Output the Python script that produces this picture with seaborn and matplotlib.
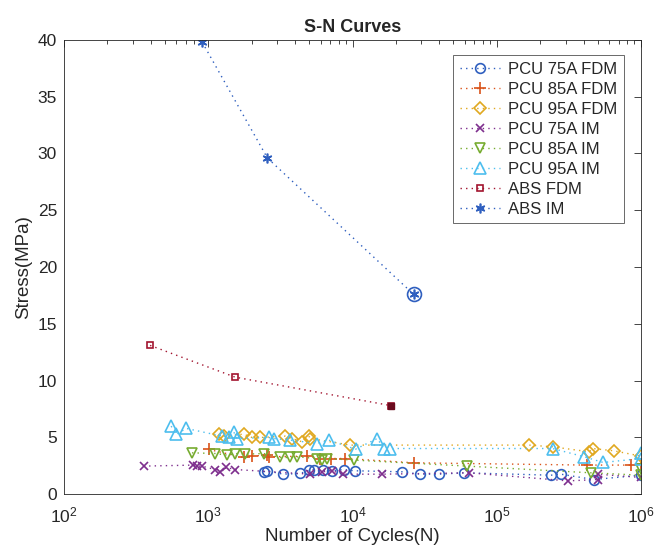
import numpy as np
import pandas as pd
import seaborn as sns
import matplotlib.pyplot as plt
from matplotlib.ticker import LogLocator, NullFormatter

sns.set_style("white")
plt.rcParams['font.family'] = ['Liberation Sans', 'DejaVu Sans']

# cycles (N) and stress (MPa)
pcu75_fdm_n = [2423, 2558, 3300, 4356, 4974, 5380, 6250, 7220, 8700, 10330,
               22130, 29400, 39800, 59300, 237000, 278000, 469000, 1000000]
pcu75_fdm_s = [1.97, 2.06, 1.76, 1.82, 2.11, 2.17, 2.11, 2.06, 2.17, 2.06,
               1.97, 1.76, 1.76, 1.88, 1.67, 1.76, 1.29, 1.67]

pcu85_fdm_n = [1005, 1757, 2010, 2558, 2624, 4840, 5995, 7040, 8930,
               26680, 421500, 853000, 1000000]
pcu85_fdm_s = [3.94, 3.23, 3.35, 3.44, 3.29, 3.35, 3.14, 3.14, 3.14,
               2.76, 2.56, 2.56, 2.70]

pcu95_fdm_n = [1180, 1276, 1757, 2010, 2296, 3424, 3812, 4473, 4974, 5110, 9680,
               167600, 243800, 437500, 462000, 646000, 1000000]
pcu95_fdm_s = [5.29, 5.11, 5.29, 4.99, 4.99, 5.11, 4.90, 4.61, 5.11, 4.90, 4.32,
               4.32, 4.17, 3.73, 4.02, 3.82, 3.35]

pcu75_im_n = [356, 790, 834, 903, 1120, 1210, 1334, 1541, 5110, 6150, 7220, 8600,
              16060, 64300, 312500, 500000, 500000, 1000000]
pcu75_im_s = [2.47, 2.56, 2.47, 2.47, 2.17, 1.97, 2.35, 2.17, 1.76, 1.97, 2.06, 1.76,
              1.76, 1.88, 1.17, 1.76, 1.29, 1.47]

pcu85_im_n = [771, 1120, 1349, 1541, 1808, 2423, 3162, 3707, 4130, 5684, 6150, 6670,
              10210, 62500, 450000, 1000000, 1000000]
pcu85_im_s = [3.64, 3.58, 3.44, 3.58, 3.52, 3.58, 3.23, 3.23, 3.29, 3.14, 3.00, 3.14,
              3.00, 2.47, 1.88, 2.26, 1.67]

pcu95_im_n = [553, 600, 703, 1245, 1384, 1500, 1582, 2624, 2843, 3707, 5684, 6846,
              10490, 14830, 16520, 18170, 243800, 403500, 547000, 1000000, 1000000]
pcu95_im_s = [5.99, 5.26, 5.79, 5.11, 5.05, 5.49, 4.90, 4.99, 4.90, 4.76, 4.46, 4.76,
              3.96, 4.90, 4.02, 4.02, 4.02, 3.29, 2.79, 3.64, 3.14]

abs_fdm_n = [395, 1540, 18400]
abs_fdm_s = [13.1, 10.3, 7.8]

abs_im_n = [908, 2570, 26500]
abs_im_s = [39.8, 29.6, 17.6]

# highlighted points
abs_fdm_last = (18400, 7.8)
abs_im_last = (26500, 17.6)

asterisk = (6, 2, 0)
series = [
    ("PCU 75A FDM", pcu75_fdm_n, pcu75_fdm_s, "o", "#2f5fbf"),
    ("PCU 85A FDM", pcu85_fdm_n, pcu85_fdm_s, "+", "#d95319"),
    ("PCU 95A FDM", pcu95_fdm_n, pcu95_fdm_s, "D", "#e0a820"),
    ("PCU 75A IM", pcu75_im_n, pcu75_im_s, "x", "#7e2f8e"),
    ("PCU 85A IM", pcu85_im_n, pcu85_im_s, "v", "#77ac30"),
    ("PCU 95A IM", pcu95_im_n, pcu95_im_s, "^", "#4dbeee"),
    ("ABS FDM", abs_fdm_n, abs_fdm_s, "s", "#a2142f"),
    ("ABS IM", abs_im_n, abs_im_s, asterisk, "#2f5fbf"),
]
sizes = {"o": 7, "+": 8, "D": 6.5, "x": 6, "v": 7.5, "^": 8, "s": 4.5, asterisk: 7}

fig = plt.figure(figsize=(6.55, 5.54), dpi=100)
ax = fig.add_axes([0.0977, 0.108, 0.881, 0.820])

for name, n, s, mk, col in series:
    df = pd.DataFrame({"N": n, "S": s})
    filled = mk in ("+", "x", asterisk)
    sns.lineplot(data=df, x="N", y="S", ax=ax, estimator=None, label=name,
                 color=col, linestyle=(0, (1, 3)), linewidth=1.0, marker=mk,
                 markersize=sizes[mk], markeredgewidth=1.2,
                 markerfacecolor=col if filled else "none", markeredgecolor=col)

ax.plot([abs_fdm_last[0]], [abs_fdm_last[1]], "s", color="#6b0b1e", markersize=5)
ax.plot([abs_im_last[0]], [abs_im_last[1]], "o", markerfacecolor="none",
        markeredgecolor="#2f5fbf", markersize=10, markeredgewidth=1.2)

ax.set_xscale("log")
ax.set_xlim(1e2, 1e6)
ax.set_ylim(0, 40)
ax.set_yticks(range(0, 41, 5))
ax.xaxis.set_major_locator(LogLocator(base=10, numticks=10))
ax.xaxis.set_minor_locator(LogLocator(base=10, subs=np.arange(2, 10), numticks=10))
ax.xaxis.set_minor_formatter(NullFormatter())
ax.tick_params(which="both", direction="in", top=True, right=True,
               labelsize=12.5, colors="#262626", width=0.6)
ax.tick_params(which="major", length=5)
ax.tick_params(which="minor", length=3)
ax.tick_params(axis="x", which="major", pad=8)
ax.tick_params(axis="y", which="major", pad=5)
for sp in ax.spines.values():
    sp.set_color("#262626")
    sp.set_linewidth(0.6)

ax.set_xlabel("Number of Cycles(N)", fontsize=13.5, labelpad=2)
ax.set_ylabel("Stress(MPa)", fontsize=13.5)
ax.set_title("S-N Curves", fontsize=13, fontweight="bold")

leg = ax.legend(loc="upper right", fontsize=12, frameon=True, fancybox=False,
                handlelength=2.4, borderpad=0.4, labelspacing=0.3,
                handletextpad=0.5, bbox_to_anchor=(0.985, 0.985))
leg.get_frame().set_edgecolor("#262626")
leg.get_frame().set_linewidth(0.6)

fig.savefig("out.png", dpi=100)
